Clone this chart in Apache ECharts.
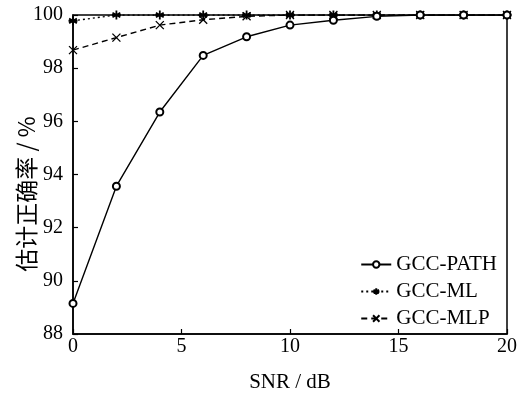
<!DOCTYPE html>
<html><head><meta charset="utf-8">
<script src="https://cdn.jsdelivr.net/npm/echarts@6/dist/echarts.min.js"></script>
<style>html,body{margin:0;padding:0;background:#fff}#c{width:517px;height:394px}</style>
</head><body><div id="c"></div>
<script>
const snr = [0, 2, 4, 6, 8, 10, 12, 14, 16, 18, 20];
const gccPath = [89.15, 93.56, 96.35, 98.48, 99.18, 99.62, 99.8, 99.95, 100, 100, 100];
const gccML = [99.78, 100, 100, 100, 100, 100, 100, 100, 100, 100, 100];
const gccMLP = [98.68, 99.15, 99.62, 99.82, 99.95, 100, 100, 100, 100, 100, 100];
const seriesNames = ['GCC-PATH', 'GCC-ML', 'GCC-MLP'];
const xTitle = 'SNR / dB';
const yTitle = '估计正确率 / %';

const font = '"Liberation Serif", "Times New Roman", serif';
const pair = ys => snr.map((x, i) => [x, ys[i]]);
const chart = echarts.init(document.getElementById('c'));
chart.setOption({
  animation: false,
  backgroundColor: '#fff',
  grid: {left: 73, right: 10, top: 15, bottom: 60, containLabel: false, outerBoundsMode: 'none',
         show: true, borderColor: '#000', borderWidth: 1.5, backgroundColor: 'transparent'},
  xAxis: {
    type: 'value', min: 0, max: 20, interval: 5,
    name: xTitle, nameLocation: 'middle', nameGap: 38,
    nameTextStyle: {fontFamily: font, fontSize: 21, color: '#000'},
    axisLine: {lineStyle: {color: '#000', width: 1.5}},
    axisTick: {inside: true, length: 5, lineStyle: {color: '#000', width: 1.2}},
    axisLabel: {fontFamily: font, fontSize: 20, color: '#000', margin: 3},
    splitLine: {show: false}
  },
  yAxis: {
    type: 'value', min: 88, max: 100, interval: 2,
    axisLine: {lineStyle: {color: '#000', width: 1.5}},
    axisTick: {inside: true, length: 5, lineStyle: {color: '#000', width: 1.2}},
    axisLabel: {fontFamily: font, fontSize: 20, color: '#000', margin: 10},
    splitLine: {show: false}
  },
  graphic: [{
    type: 'text', x: 26, y: 194, rotation: Math.PI / 2,
    style: {text: yTitle, fontFamily: '"Noto Sans CJK SC", sans-serif', fontSize: 23, fill: '#000',
            align: 'center', verticalAlign: 'middle'}
  }],
  legend: {
    orient: 'vertical', right: 15, top: 249, itemGap: 6,
    itemWidth: 30, itemHeight: 8, itemSpacing: 5,
    textStyle: {fontFamily: font, fontSize: 21, color: '#000', padding: [0, 0, 0, 0]},
    data: seriesNames
  },
  series: [
    {name: seriesNames[0], type: 'line', data: pair(gccPath), symbol: 'emptyCircle', symbolSize: 7,
     lineStyle: {color: '#000', width: 1.4, type: 'solid'},
     itemStyle: {color: '#000', borderColor: '#000', borderWidth: 1.3}, z: 3},
    {name: seriesNames[1], type: 'line', data: pair(gccML),
     symbol: 'path://M0,-1L0,1M-0.87,-0.5L0.87,0.5M-0.87,0.5L0.87,-0.5M-1,0L1,0', symbolSize: 9,
     lineStyle: {color: '#000', width: 1.4, type: [2, 3]},
     itemStyle: {color: '#000', borderColor: '#000', borderWidth: 1.8}, z: 2},
    {name: seriesNames[2], type: 'line', data: pair(gccMLP),
     symbol: 'path://M-1,-1L1,1M-1,1L1,-1', symbolSize: 8,
     lineStyle: {color: '#000', width: 1.4, type: [6, 4]},
     itemStyle: {color: '#000', borderColor: '#000', borderWidth: 1.3}, z: 2}
  ]
});
</script></body></html>
